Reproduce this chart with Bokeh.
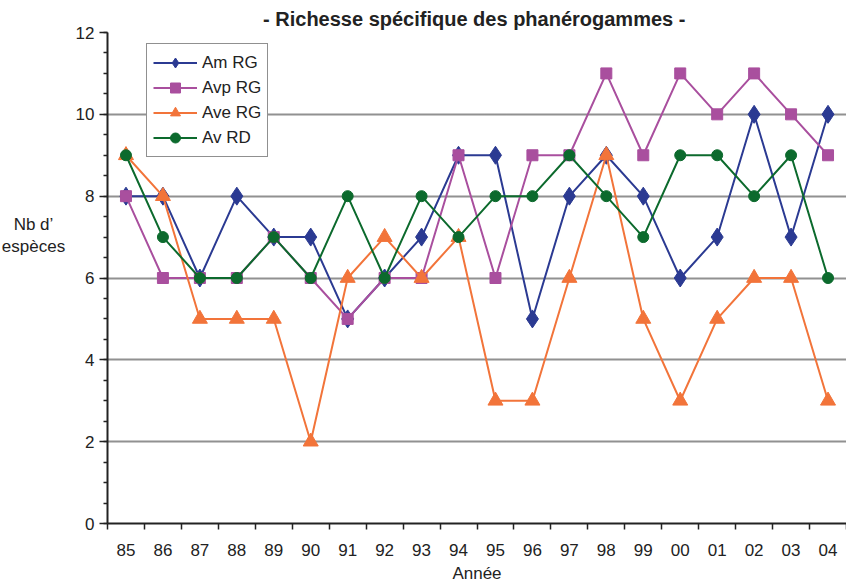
from bokeh.plotting import figure
from bokeh.models import FixedTicker, Legend, Label
from bokeh.embed import file_html
from bokeh.resources import INLINE

years = ["85", "86", "87", "88", "89", "90", "91", "92", "93", "94",
         "95", "96", "97", "98", "99", "00", "01", "02", "03", "04"]
am_rg = [8, 8, 6, 8, 7, 7, 5, 6, 7, 9, 9, 5, 8, 9, 8, 6, 7, 10, 7, 10]
avp_rg = [8, 6, 6, 6, 7, 6, 5, 6, 6, 9, 6, 9, 9, 11, 9, 11, 10, 11, 10, 9]
ave_rg = [9, 8, 5, 5, 5, 2, 6, 7, 6, 7, 3, 3, 6, 9, 5, 3, 5, 6, 6, 3]
av_rd = [9, 7, 6, 6, 7, 6, 8, 6, 8, 7, 8, 8, 9, 8, 7, 9, 9, 8, 9, 6]
y_ticks = [0, 2, 4, 6, 8, 10, 12]

xs = [i + 0.5 for i in range(len(years))]
FONT = "Liberation Sans"

p = figure(width=846, height=585, output_backend="svg", toolbar_location=None,
           x_range=(0, len(years)), y_range=(0, 12),
           min_border_left=107, min_border_right=0, min_border_top=32,
           min_border_bottom=61)
p.outline_line_color = None
p.background_fill_color = "white"

p.title.text = "- Richesse spécifique des phanérogammes  -"
p.title.align = "center"
p.title.text_font = FONT
p.title.text_font_size = "20px"
p.title.text_font_style = "bold"
p.title.text_color = "#222222"
p.title.standoff = 6

# x axis
p.xaxis.ticker = FixedTicker(ticks=xs, minor_ticks=list(range(len(years) + 1)))
p.xaxis.major_label_overrides = {x: y for x, y in zip(xs, years)}
p.xaxis.major_tick_out = 0
p.xaxis.major_tick_in = 0
p.xaxis.minor_tick_out = 6
p.xaxis.minor_tick_in = 0
p.xaxis.minor_tick_line_color = "#222222"
p.xaxis.minor_tick_line_width = 1.5
p.xaxis.major_label_standoff = 14
p.xaxis.axis_label = "Année"
p.xaxis.axis_label_standoff = 5
p.xaxis.axis_label_text_font = FONT
p.xaxis.axis_label_text_font_size = "17px"
p.xaxis.axis_label_text_font_style = "normal"
p.xaxis.axis_label_text_color = "#222222"

# y axis
p.yaxis.ticker = FixedTicker(ticks=y_ticks, minor_ticks=[i * 0.5 for i in range(25)])
p.yaxis.major_tick_out = 8
p.yaxis.major_tick_in = 0
p.yaxis.minor_tick_out = 4
p.yaxis.minor_tick_in = 0
p.yaxis.major_tick_line_width = 1.5
p.yaxis.minor_tick_line_width = 1.5
p.yaxis.major_tick_line_color = "#222222"
p.yaxis.minor_tick_line_color = "#222222"
p.yaxis.major_label_standoff = 5

for ax in (p.xaxis, p.yaxis):
    ax.axis_line_color = "#222222"
    ax.axis_line_width = 2
    ax.major_label_text_font = FONT
    ax.major_label_text_font_size = "17px"
    ax.major_label_text_color = "#222222"

p.xgrid.grid_line_color = None
p.ygrid.ticker = FixedTicker(ticks=[2, 4, 6, 8, 10, 12])
p.ygrid.grid_line_color = "#222222"
p.ygrid.grid_line_width = 1.8
p.ygrid.grid_line_dash = "1 1"

series = [
    ("Am RG", am_rg, "#2B3A92", "diamond", 18),
    ("Avp RG", avp_rg, "#A94F9E", "square", 11),
    ("Ave RG", ave_rg, "#F2743A", "triangle", 15),
    ("Av RD", av_rd, "#0C6A2D", "circle", 11),
]
items = []
for name, vals, color, marker, size in series:
    r1 = p.line(xs, vals, line_color=color, line_width=2)
    r2 = p.scatter(xs, vals, marker=marker, size=size, fill_color=color, line_color=color)
    items.append((name, [r1, r2]))

legend = Legend(items=items, location=(39, 366))
legend.border_line_color = "#222222"
legend.border_line_width = 1.5
legend.background_fill_alpha = 1
legend.label_text_font = FONT
legend.label_text_font_size = "17px"
legend.label_text_color = "#222222"
legend.glyph_width = 44
legend.glyph_height = 25
legend.spacing = 0
legend.padding = 6
legend.margin = 0
legend.label_standoff = 5
p.add_layout(legend, "center")

ylab = Label(x=24, y=288, x_units="screen", y_units="screen",
             text="Nb d’\nespèces", text_align="center", text_baseline="middle",
             text_font=FONT, text_font_size="17px", text_color="#222222")
p.add_layout(ylab, "left")

open("out.html", "w").write(file_html(p, INLINE))
